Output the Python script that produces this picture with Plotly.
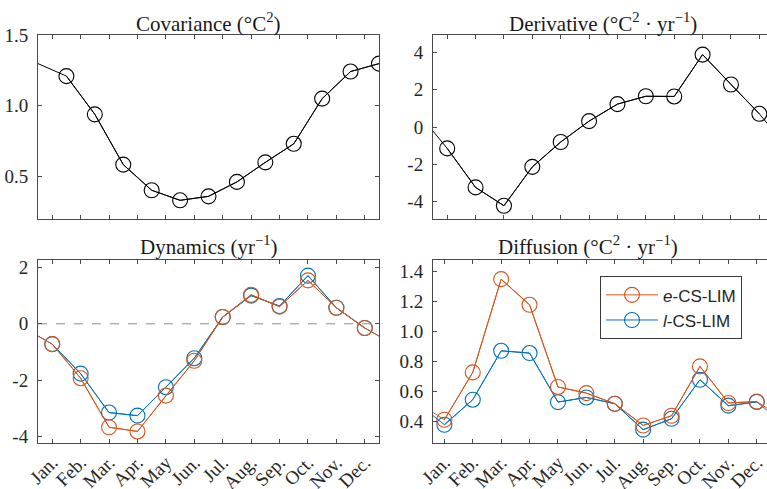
import plotly.graph_objects as go

# ---------------- data ----------------
months = ["Jan.", "Feb.", "Mar.", "Apr.", "May", "Jun.", "Jul.", "Aug.", "Sep.", "Oct.", "Nov.", "Dec."]
month_pos = list(range(1, 13))
half_pos = [m + 0.5 for m in month_pos]   # covariance sampled between months

cov_vals = [1.21, 0.94, 0.585, 0.404, 0.333, 0.361, 0.463, 0.601, 0.732, 1.051, 1.242, 1.298]
deriv_vals = [-1.14, -3.23, -4.21, -2.13, -0.80, 0.32, 1.23, 1.65, 1.64, 3.88, 2.28, 0.71]
dyn_e = [-0.72, -1.93, -3.67, -3.82, -2.55, -1.31, 0.24, 1.03, 0.61, 1.54, 0.57, -0.15]
dyn_l = [-0.72, -1.77, -3.15, -3.26, -2.25, -1.22, 0.24, 1.00, 0.63, 1.71, 0.57, -0.15]
dif_e = [0.411, 0.727, 1.349, 1.178, 0.630, 0.589, 0.518, 0.373, 0.438, 0.767, 0.523, 0.533]
dif_l = [0.378, 0.545, 0.871, 0.856, 0.529, 0.560, 0.518, 0.345, 0.418, 0.678, 0.505, 0.530]

cov_ticks = [0.5, 1.0, 1.5]
deriv_ticks = [-4, -2, 0, 2, 4]
dyn_ticks = [-4, -2, 0, 2]
dif_ticks = [0.4, 0.6, 0.8, 1.0, 1.2, 1.4]

C_E = "#D95319"
C_L = "#0072BD"
BLACK = "#000000"
AX = "#4a4a4a"
SERIF = "Liberation Serif"
SANS = "Liberation Sans"


def wrap(x, y):
    """periodic extension: previous December and next January"""
    return [x[0] - 1] + list(x) + [x[-1] + 1], [y[-1]] + list(y) + [y[0]]


def fmt(vals, dec):
    return [(f"{v:.{dec}f}").replace("\u2212", "-") for v in vals]


fig = go.Figure()


def add_series(x, y, color, xa, ya, name=None, rank=None):
    wx, wy = wrap(x, y)
    fig.add_trace(go.Scatter(x=wx, y=wy, mode="lines", line=dict(color=color, width=1),
                             xaxis=xa, yaxis=ya, showlegend=False, hoverinfo="skip"))
    fig.add_trace(go.Scatter(x=x, y=y, mode="lines+markers", name=name or "",
                             line=dict(color=color, width=1),
                             marker=dict(symbol="circle-open", size=15, color=color,
                                         line=dict(width=1.1, color=color)),
                             xaxis=xa, yaxis=ya, showlegend=name is not None,
                             legendrank=rank if rank else 1000))


add_series(half_pos, cov_vals, BLACK, "x", "y")
add_series(month_pos, deriv_vals, BLACK, "x2", "y2")
add_series(month_pos, dyn_l, C_L, "x3", "y3")
add_series(month_pos, dyn_e, C_E, "x3", "y3")
add_series(month_pos, dif_l, C_L, "x4", "y4", name="<i>l</i>-CS-LIM", rank=2)
add_series(month_pos, dif_e, C_E, "x4", "y4", name="<i>e</i>-CS-LIM", rank=1)

W, H = 767, 489
ML, MR, MT, MB = 38, 0, 35, 45.7
PW, PH = W - ML - MR, H - MT - MB


def px_x(p):
    return (p - ML) / PW


def px_y(p):
    return 1 - (p - MT) / PH


tickfont = dict(family=SERIF, size=19, color="#262626")
common_x = dict(tickmode="array", tickvals=month_pos, ticks="inside", ticklen=4, tickcolor=AX,
                showline=True, linecolor=AX, linewidth=1, showgrid=False, zeroline=False,
                tickfont=tickfont, fixedrange=True, ticklabelstandoff=0, automargin=False)
common_y = dict(tickmode="array", ticks="inside", ticklen=4, tickcolor=AX, showline=True,
                linecolor=AX, linewidth=1, showgrid=False, zeroline=False, tickfont=tickfont,
                ticklabelstandoff=5, automargin=False)

dom_left = [0.0, px_x(379)]
dom_right = [px_x(433), 1.0]
dom_top = [px_y(219.3), 1.0]
dom_bot = [0.0, px_y(260)]

fig.update_layout(
    width=W, height=H,
    margin=dict(l=ML, r=MR, t=MT, b=MB, autoexpand=False),
    paper_bgcolor="white", plot_bgcolor="white",
    showlegend=True,
    xaxis=dict(common_x, domain=dom_left, range=[0.5, 12.5], showticklabels=False,
               mirror="ticks", anchor="y"),
    yaxis=dict(common_y, domain=dom_top, range=[0.2, 1.5], tickvals=cov_ticks,
               ticktext=fmt(cov_ticks, 1), mirror="ticks", anchor="x"),
    xaxis2=dict(common_x, domain=dom_right, range=[0.5, 12.27], showticklabels=False,
                mirror="ticks", anchor="y2"),
    yaxis2=dict(common_y, domain=dom_top, range=[-4.93, 4.93], tickvals=deriv_ticks,
                ticktext=fmt(deriv_ticks, 0), mirror=False, anchor="x2"),
    xaxis3=dict(common_x, domain=dom_left, range=[0.5, 12.5], ticktext=months, tickangle=-45,
                mirror="ticks", anchor="y3"),
    yaxis3=dict(common_y, domain=dom_bot, range=[-4.23, 2.27], tickvals=dyn_ticks,
                ticktext=fmt(dyn_ticks, 0), mirror="ticks", anchor="x3"),
    xaxis4=dict(common_x, domain=dom_right, range=[0.6, 12.36], ticktext=months, tickangle=-45,
                mirror="ticks", anchor="y4"),
    yaxis4=dict(common_y, domain=dom_bot, range=[0.256, 1.478], tickvals=dif_ticks,
                ticktext=fmt(dif_ticks, 1), mirror=False, anchor="x4"),
    legend=dict(x=px_x(600), y=px_y(276.5), xanchor="left", yanchor="top",
                bgcolor="white", bordercolor="#3a3a3a", borderwidth=1,
                font=dict(family=SANS, size=17, color="#262626"),
                itemwidth=52, tracegroupgap=0),
    shapes=[dict(type="line", xref="x3", yref="y3", x0=0.5, x1=12.5, y0=0, y1=0,
                 line=dict(color="#8c8c8c", width=1, dash="dash"), layer="below")],
)

title_font = dict(family=SERIF, size=21, color="#1a1a1a")
titles = [
    ("Covariance (°C<sup>2</sup>)", (38 + 379) / 2, 22),
    ("Derivative (°C<sup>2</sup> · yr<sup>−1</sup>)", 603, 22),
    ("Dynamics (yr<sup>−1</sup>)", (38 + 379) / 2, 246),
    ("Diffusion (°C<sup>2</sup> · yr<sup>−1</sup>)", 588, 246),
]
for text, cx, cy in titles:
    fig.add_annotation(text=text, x=px_x(cx), y=px_y(cy), xref="paper", yref="paper",
                       showarrow=False, xanchor="center", yanchor="middle", font=title_font)

fig.write_html("out.html")
